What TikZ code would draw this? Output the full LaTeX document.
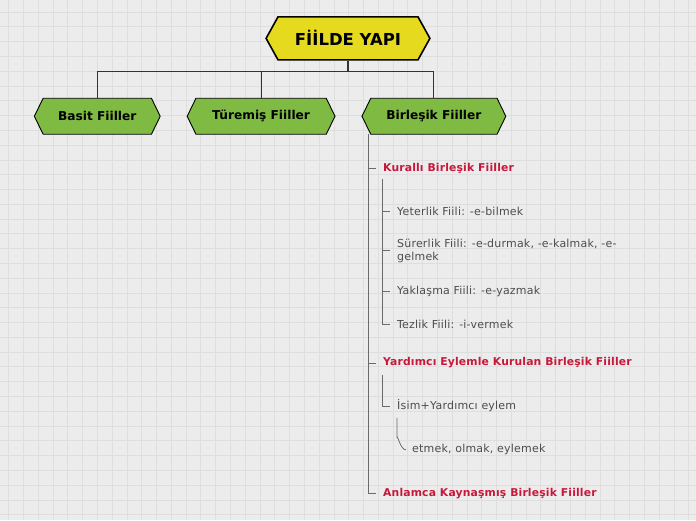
\documentclass[tikz,border=0pt]{standalone}
\usepackage{fontspec}
\setmainfont{DejaVu Sans}
\usepackage{tikz}
\usetikzlibrary{positioning,shapes.symbols}
\usepackage{xcolor}
\definecolor{paper}{HTML}{ECECEC}
\definecolor{gridgray}{HTML}{DEDEDE}
\definecolor{titleyellow}{HTML}{E6DA1E}
\definecolor{leafgreen}{HTML}{7FBA42}
\definecolor{branchred}{HTML}{C8173A}
\definecolor{itemgray}{HTML}{4D4D4D}
\definecolor{treeline}{HTML}{6B6B6B}

\tikzset{
  hexbox/.style={signal, signal to=west and east, draw=black, inner sep=0pt},
  titlebox/.style={hexbox, line width=1.6pt, fill=titleyellow, signal pointer angle=122,
    minimum width=164pt, minimum height=43pt, font=\fontsize{16.5}{18}\selectfont\bfseries},
  kindbox/.style={hexbox, line width=0.9pt, fill=leafgreen, signal pointer angle=128,
    minimum height=36pt, font=\fontsize{12.2}{14}\selectfont\bfseries},
  redlabel/.style={anchor=west, inner sep=0pt, text=branchred,
    font=\fontsize{10.8}{13}\selectfont\bfseries\addfontfeature{LetterSpace=1.5}},
  graylabel/.style={anchor=west, inner sep=0pt, text=itemgray, align=left,
    font=\fontsize{11}{13}\selectfont\addfontfeature{LetterSpace=2}},
  busline/.style={draw=black!80, line width=1.1pt},
  treelink/.style={draw=treeline, line width=0.8pt},
}

\begin{document}
\begin{tikzpicture}[x=1pt,y=-1pt]
  % background with grid
  \fill[paper] (0,0) rectangle (696,520);
  \foreach \gx in {8.3,23.1,...,696} \draw[gridgray,line width=0.8pt] (\gx,0) -- (\gx,520);
  \foreach \gy in {11.7,26.5,...,520} \draw[gridgray,line width=0.8pt] (0,\gy) -- (696,\gy);
  \useasboundingbox (0,0) rectangle (696,520);

  % main topic and kinds
  \node[titlebox] (fiil) at (348,38) {FİİLDE YAPI};
  \node[kindbox, minimum width=126pt] (basit) at (97,116) {Basit Fiiller};
  \node[kindbox, minimum width=148pt] (turemis) at (261,116) {Türemiş Fiiller};
  \node[kindbox, minimum width=144pt] (birlesik) at (434,116) {Birleşik Fiiller};

  \coordinate (bus) at (348,71);
  \draw[busline] (fiil.south) -- (bus);
  \draw[busline] (basit.north) |- (bus) -| (birlesik.north);
  \draw[busline] (turemis.north) -- (turemis.north |- bus);

  % sub topics
  \node[redlabel] (kurali) at (383,168) {Kurallı Birleşik Fiiller};
  \node[graylabel] (yeterlik) at (397,211) {Yeterlik Fiili: -e-bilmek};
  \node[graylabel] (surerlik) at (397,250.5) {Sürerlik Fiili: -e-durmak, -e-kalmak, -e-\\gelmek};
  \node[graylabel] (yaklasma) at (397,291) {Yaklaşma Fiili: -e-yazmak};
  \node[graylabel] (tezlik) at (397,324) {Tezlik Fiili: -i-vermek};
  \node[redlabel] (yardimci) at (383,363) {Yardımcı Eylemle Kurulan Birleşik Fiiller};
  \node[graylabel] (isim) at (397,406) {İsim+Yardımcı eylem};
  \node[graylabel] (etmek) at (412,450) {etmek, olmak, eylemek};
  \node[redlabel] (anlamca) at (383,494) {Anlamca Kaynaşmış Birleşik Fiiller};

  % tree lines
  \coordinate (trunk) at (368,134);
  \draw[treelink] (trunk) |- ([xshift=-7pt]anlamca.west);
  \draw[treelink] (trunk |- kurali.west) -- ([xshift=-7pt]kurali.west);
  \draw[treelink] (trunk |- yardimci.west) -- ([xshift=-7pt]yardimci.west);

  \coordinate (kurtrunk) at (382,179);
  \draw[treelink] (kurtrunk) |- ([xshift=-7pt]tezlik.west);
  \foreach \leaf in {yeterlik,surerlik,yaklasma}
    \draw[treelink] (kurtrunk |- \leaf.west) -- ([xshift=-7pt]\leaf.west);

  \coordinate (yartrunk) at (382,375);
  \draw[treelink] (yartrunk) |- ([xshift=-7pt]isim.west);

  \coordinate (isimtrunk) at (397,418);
  \draw[treelink] (isimtrunk) -- (397,438) to[out=90,in=180] ([xshift=-6pt]etmek.west);
\end{tikzpicture}
\end{document}
